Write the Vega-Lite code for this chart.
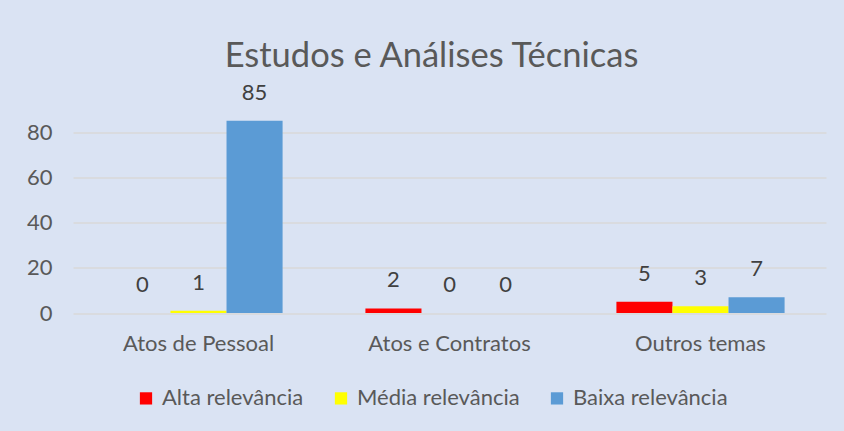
{
  "$schema": "https://vega.github.io/schema/vega-lite/v6.json",
  "width": 753,
  "height": 203.6,
  "autosize": "none",
  "padding": {"left": 73, "top": 109.4, "right": 18, "bottom": 118},
  "background": "#dae3f3",
  "config": {
    "view": {"stroke": null},
    "font": "Lato",
    "axis": {"labelFont": "Lato", "labelColor": "#595959", "labelFontSize": 22}
  },
  "title": {
    "text": "Estudos e Análises Técnicas",
    "fontSize": 34.5,
    "font": "Lato",
    "fontWeight": "normal",
    "color": "#595959",
    "anchor": "middle",
    "frame": "group",
    "dx": -18,
    "dy": 65,
    "offset": 38,
    "baseline": "bottom"
  },
  "data": {
    "values": [
      {"categoria": "Atos de Pessoal", "relevancia": "Alta relevância", "valor": 0},
      {"categoria": "Atos de Pessoal", "relevancia": "Média relevância", "valor": 1},
      {"categoria": "Atos de Pessoal", "relevancia": "Baixa relevância", "valor": 85},
      {"categoria": "Atos e Contratos", "relevancia": "Alta relevância", "valor": 2},
      {"categoria": "Atos e Contratos", "relevancia": "Média relevância", "valor": 0},
      {"categoria": "Atos e Contratos", "relevancia": "Baixa relevância", "valor": 0},
      {"categoria": "Outros temas", "relevancia": "Alta relevância", "valor": 5},
      {"categoria": "Outros temas", "relevancia": "Média relevância", "valor": 3},
      {"categoria": "Outros temas", "relevancia": "Baixa relevância", "valor": 7}
    ]
  },
  "encoding": {
    "x": {
      "field": "categoria",
      "type": "nominal",
      "sort": null,
      "scale": {"paddingInner": 0.33, "paddingOuter": 0.165},
      "axis": {"title": null, "labelAngle": 0, "ticks": false, "domain": false, "labelPadding": 20}
    },
    "xOffset": {
      "field": "relevancia",
      "type": "nominal",
      "sort": ["Alta relevância", "Média relevância", "Baixa relevância"]
    },
    "y": {
      "field": "valor",
      "type": "quantitative",
      "scale": {"domain": [0, 90], "nice": false},
      "axis": {
        "title": null,
        "values": [0, 20, 40, 60, 80],
        "ticks": false,
        "domain": false,
        "labelPadding": 21,
        "gridColor": "#d9d9d9",
        "gridWidth": 1.5
      }
    }
  },
  "layer": [
    {
      "mark": {"type": "bar"},
      "encoding": {
        "color": {
          "field": "relevancia",
          "type": "nominal",
          "sort": ["Alta relevância", "Média relevância", "Baixa relevância"],
          "scale": {
            "domain": ["Alta relevância", "Média relevância", "Baixa relevância"],
            "range": ["#ff0000", "#ffff00", "#5b9bd5"]
          },
          "legend": {
            "title": null,
            "orient": "none",
            "direction": "horizontal",
            "legendX": 62,
            "legendY": 278,
            "symbolType": "square",
            "symbolSize": 150,
            "symbolStrokeWidth": 0,
            "labelFontSize": 22,
            "labelFont": "Lato",
            "labelColor": "#595959",
            "columnPadding": 26,
            "labelOffset": 5,
            "labelLimit": 300
          }
        }
      }
    },
    {
      "mark": {"type": "text", "baseline": "bottom", "dy": -16, "fontSize": 22, "color": "#404040", "font": "Lato"},
      "encoding": {"text": {"field": "valor", "type": "quantitative"}}
    }
  ]
}
